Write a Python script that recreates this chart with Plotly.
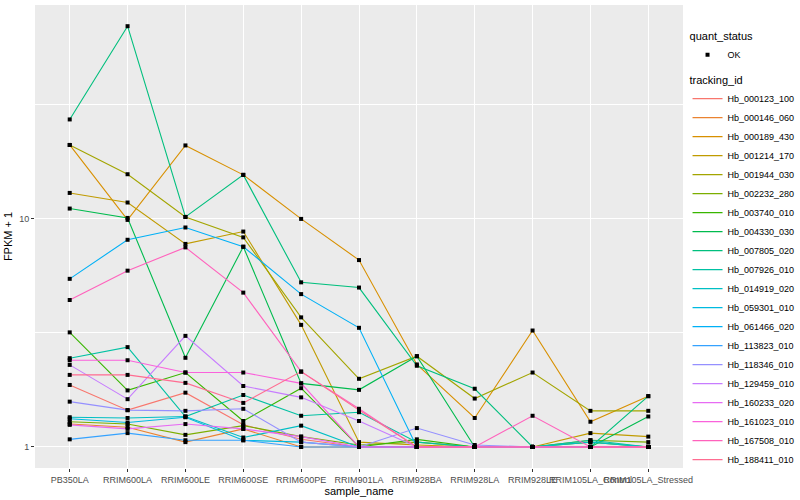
import plotly.graph_objects as go

samples = ["PB350LA", "RRIM600LA", "RRIM600LE", "RRIM600SE", "RRIM600PE", "RRIM901LA",
           "RRIM928BA", "RRIM928LA", "RRIM928LE", "RRIM105LA_Control", "RRIM105LA_Stressed"]

tracking_ids = ["Hb_000123_100", "Hb_000146_060", "Hb_000189_430", "Hb_001214_170", "Hb_001944_030",
                "Hb_002232_280", "Hb_003740_010", "Hb_004330_030", "Hb_007805_020", "Hb_007926_010",
                "Hb_014919_020", "Hb_059301_010", "Hb_061466_020", "Hb_113823_010", "Hb_118346_010",
                "Hb_129459_010", "Hb_160233_020", "Hb_161023_010", "Hb_167508_010", "Hb_188411_010"]

colors = ["#F8766D", "#EA8331", "#D89000", "#C09B00", "#A3A500", "#7CAE00", "#39B600", "#00BB4E",
          "#00BF7D", "#00C1A3", "#00BFC4", "#00BAE0", "#00B0F6", "#35A2FF", "#9590FF", "#C77CFF",
          "#E76BF3", "#FA62DB", "#FF62BC", "#FF6C91"]

# FPKM + 1 per sample, one list per tracking_id
Hb_000123_100 = [1.87, 1.45, 1.73, 1.25, 1.08, 1.0, 1.0, 1.0, 1.0, 1.0, 1.0]
Hb_000146_060 = [1.26, 1.22, 1.05, 1.2, 1.0, 1.0, 1.0, 1.0, 1.0, 1.0, 1.0]
Hb_000189_430 = [21.1, 9.9, 21.0, 15.6, 10.0, 6.6, 2.3, 1.34, 3.24, 1.29, 1.67]
Hb_001214_170 = [13.0, 11.8, 7.77, 8.8, 3.43, 1.05, 1.02, 1.0, 1.0, 1.15, 1.11]
Hb_001944_030 = [21.1, 15.7, 10.2, 8.3, 3.7, 1.99, 2.5, 1.63, 2.12, 1.44, 1.44]
Hb_002232_280 = [1.29, 1.26, 1.13, 1.24, 1.11, 1.02, 1.05, 1.0, 1.0, 1.07, 1.05]
Hb_003740_010 = [3.18, 1.77, 2.12, 1.30, 1.81, 1.0, 1.08, 1.0, 1.0, 1.05, 1.0]
Hb_004330_030 = [11.1, 10.1, 2.46, 7.55, 1.9, 1.78, 2.5, 1.0, 1.0, 1.0, 1.36]
Hb_007805_020 = [27.3, 70.0, 10.2, 15.6, 5.27, 5.0, 2.27, 1.8, 1.0, 1.0, 1.67]
Hb_007926_010 = [2.45, 2.74, 1.36, 1.69, 1.37, 1.42, 1.05, 1.0, 1.0, 1.07, 1.0]
Hb_014919_020 = [1.35, 1.34, 1.36, 1.1, 1.24, 1.0, 1.0, 1.0, 1.0, 1.05, 1.0]
Hb_059301_010 = [1.33, 1.28, 1.35, 1.07, 1.05, 1.0, 1.0, 1.0, 1.0, 1.0, 1.0]
Hb_061466_020 = [5.46, 8.1, 9.17, 7.55, 4.68, 3.33, 1.0, 1.0, 1.0, 1.0, 1.0]
Hb_113823_010 = [1.08, 1.15, 1.07, 1.07, 1.0, 1.0, 1.0, 1.0, 1.0, 1.0, 1.0]
Hb_118346_010 = [1.58, 1.45, 1.44, 1.47, 1.05, 1.0, 1.21, 1.02, 1.0, 1.0, 1.0]
Hb_129459_010 = [2.29, 1.62, 3.07, 1.85, 1.65, 1.3, 1.0, 1.0, 1.0, 1.0, 1.0]
Hb_160233_020 = [1.25, 1.2, 1.26, 1.2, 1.11, 1.0, 1.0, 1.0, 1.0, 1.0, 1.0]
Hb_161023_010 = [2.4, 2.4, 2.12, 2.12, 1.9, 1.0, 1.0, 1.0, 1.0, 1.0, 1.0]
Hb_167508_010 = [4.41, 5.93, 7.5, 4.75, 2.14, 1.47, 1.0, 1.0, 1.37, 1.0, 1.0]
Hb_188411_010 = [2.07, 2.07, 1.91, 1.56, 2.14, 1.45, 1.0, 1.0, 1.0, 1.0, 1.0]

series = [Hb_000123_100, Hb_000146_060, Hb_000189_430, Hb_001214_170, Hb_001944_030,
          Hb_002232_280, Hb_003740_010, Hb_004330_030, Hb_007805_020, Hb_007926_010,
          Hb_014919_020, Hb_059301_010, Hb_061466_020, Hb_113823_010, Hb_118346_010,
          Hb_129459_010, Hb_160233_020, Hb_161023_010, Hb_167508_010, Hb_188411_010]

FONT = "Liberation Sans, Arial, sans-serif"

fig = go.Figure()
for name, vals, col in zip(tracking_ids, series, colors):
    fig.add_trace(go.Scatter(x=samples, y=vals, mode="lines", name=name,
                             line=dict(color=col, width=1.1), legend="legend2"))

all_x = [s for vals in series for s in samples]
all_y = [v for vals in series for v in vals]
fig.add_trace(go.Scatter(x=all_x, y=all_y, mode="markers", name="OK",
                         marker=dict(color="black", size=4, symbol="square"),
                         legend="legend"))

fig.update_layout(
    width=800, height=500,
    margin=dict(l=35, r=117, t=5, b=32, autoexpand=False),
    paper_bgcolor="white", plot_bgcolor="#EBEBEB",
    font=dict(family=FONT, size=9, color="#4D4D4D"),
    showlegend=True,
    legend=dict(title=dict(text="quant_status", font=dict(size=11, color="black")),
                x=1.007, xanchor="left", y=0.955, yanchor="top",
                font=dict(size=9, color="black"), bgcolor="rgba(0,0,0,0)", itemwidth=30),
    legend2=dict(title=dict(text="tracking_id", font=dict(size=11, color="black")),
                 x=1.007, xanchor="left", y=0.86, yanchor="top",
                 font=dict(size=9, color="black"), bgcolor="rgba(0,0,0,0)", itemwidth=30),
)

fig.update_xaxes(
    type="category", categoryorder="array", categoryarray=samples,
    range=[-0.6, 10.6], tickangle=0,
    showgrid=True, gridcolor="white", gridwidth=1.1,
    ticks="outside", ticklen=3, tickcolor="#333333", zeroline=False,
    tickfont=dict(size=9, color="#4D4D4D"),
    title=dict(text="sample_name", font=dict(size=11, color="black"), standoff=0),
)
fig.update_yaxes(
    type="log", range=[-0.0923, 1.938],
    tickvals=[1, 10], ticktext=["1", "10"],
    showgrid=True, gridcolor="white", gridwidth=1.1,
    ticks="outside", ticklen=3, tickcolor="#333333", zeroline=False,
    tickfont=dict(size=9, color="#4D4D4D"),
    minor=dict(tickvals=[3.1623, 31.623], showgrid=True, gridcolor="white", gridwidth=0.5, ticks=""),
    title=dict(text="FPKM + 1", font=dict(size=11, color="black"), standoff=4),
)

fig.write_html("out.html", config={"displayModeBar": False},
               post_script="document.body.style.margin='0';")
